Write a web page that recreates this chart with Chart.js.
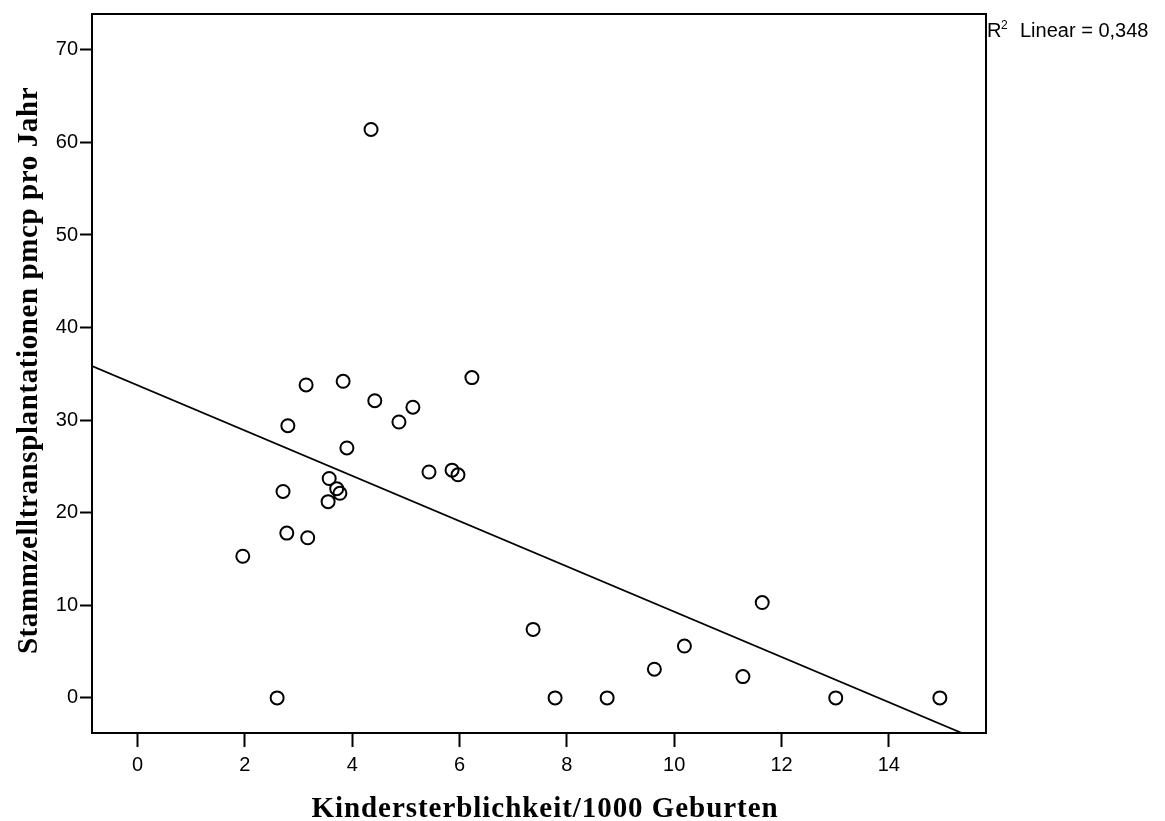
<!DOCTYPE html>
<html>
<head>
<meta charset="utf-8">
<script src="https://cdn.jsdelivr.net/npm/chart.js@4"></script>
<style>
  html, body { margin: 0; padding: 0; background: #fff; }
  #wrap { width: 1165px; height: 821px; }
</style>
</head>
<body>
<div id="wrap"><canvas id="streu"></canvas></div>
<script>
// Kindersterblichkeit (x) und Stammzelltransplantationen (y)
const kinderSterblichkeit = [1.96, 2.60, 2.71, 2.78, 2.80, 3.14, 3.17, 3.55, 3.57, 3.71,
  3.77, 3.83, 3.90, 4.35, 4.42, 4.87, 5.13, 5.43, 5.86, 5.97,
  6.23, 7.37, 7.78, 8.75, 9.63, 10.19, 11.28, 11.64, 13.01, 14.95]
const transplantationen = [15.3, 0, 22.3, 17.8, 29.4, 33.8, 17.3, 21.2, 23.7, 22.6,
  22.1, 34.2, 27.0, 61.4, 32.1, 29.8, 31.4, 24.4, 24.6, 24.1,
  34.6, 7.4, 0, 0, 3.1, 5.6, 2.3, 10.3, 0, 0]
// Regressionsgerade: Endpunkte aus dem Bild
const linieX = [-0.85, 15.36]
const linieY = [35.84, -3.79]
const xTicks = [0, 2, 4, 6, 8, 10, 12, 14]
const yTicks = [0, 10, 20, 30, 40, 50, 60, 70]
const rQuadrat = "0,348"
const xTitel = 'Kindersterblichkeit/1000 Geburten'
const yTitel = 'Stammzelltransplantationen pmcp pro Jahr'

const $grafica = document.querySelector('#streu')

const serif = 'bold 29px "Liberation Serif", "Times New Roman", serif'
const sans = '"Liberation Sans", Arial, sans-serif'

const rahmen = {
  id: 'rahmen',
  afterDatasetsDraw(chart) {
    const { ctx, chartArea: a } = chart
    ctx.save()
    ctx.strokeStyle = '#000'
    ctx.lineWidth = 2
    ctx.strokeRect(a.left, a.top, a.right - a.left, a.bottom - a.top)
    // R² Beschriftung
    ctx.fillStyle = '#000'
    ctx.textBaseline = 'alphabetic'
    ctx.font = '20px ' + sans
    ctx.fillText('R', 987, 37)
    ctx.font = '12px ' + sans
    ctx.fillText('2', 1001, 29)
    ctx.font = '20px ' + sans
    ctx.fillText('Linear = ' + rQuadrat, 1020, 37)

    // Achsentitel, etwas gesperrt wie im Original
    ctx.font = serif
    ctx.textAlign = 'center'
    ctx.letterSpacing = '0.95px'
    ctx.fillText(xTitel, 545, 817)
    ctx.letterSpacing = '0.6px'
    ctx.translate(37, 370.5)
    ctx.rotate(-Math.PI / 2)
    ctx.fillText(yTitel, 0, 0)
    ctx.restore()
  }
}

new Chart($grafica, {
  type: 'scatter',
  data: {
    datasets: [{
      label: 'Beobachtet',
      data: kinderSterblichkeit.map((x, i) => ({ x: x, y: transplantationen[i] })),
      pointRadius: 6.5,
      pointHoverRadius: 6.5,
      pointBorderWidth: 2,
      pointBorderColor: '#000',
      pointBackgroundColor: 'rgba(0,0,0,0)',
      showLine: false
    }, {
      label: 'Linear',
      type: 'line',
      data: linieX.map((x, i) => ({ x: x, y: linieY[i] })),
      borderColor: '#000',
      borderWidth: 1.8,
      pointRadius: 0,
      fill: false,
      clip: 0
    }]
  },
  options: {
    responsive: true,
    maintainAspectRatio: false,
    animation: false,
    events: [],
    layout: { padding: { left: 0, top: 10, right: 179, bottom: 0 } },
    plugins: { legend: { display: false }, tooltip: { enabled: false } },
    scales: {
      x: {
        type: 'linear',
        min: -0.85,
        max: 15.81,
        afterBuildTicks: s => { s.ticks = xTicks.map(v => ({ value: v })) },
        afterFit: s => { s.height = 88 },
        grid: { drawOnChartArea: false, tickLength: 14, tickWidth: 2, tickColor: '#000' },
        border: { display: false },
        ticks: { color: '#000', padding: 6, font: { family: sans, size: 20 } },
        title: { display: false, text: xTitel }
      },
      y: {
        type: 'linear',
        min: -3.79,
        max: 73.87,
        afterBuildTicks: s => { s.ticks = yTicks.map(v => ({ value: v })) },
        afterFit: s => { s.width = 92 },
        grid: { drawOnChartArea: false, tickLength: 12, tickWidth: 2, tickColor: '#000' },
        border: { display: false },
        ticks: { color: '#000', padding: 2, font: { family: sans, size: 20 } },
        title: { display: false, text: yTitel }
      }
    }
  },
  plugins: [rahmen]
})
</script>
</body>
</html>
